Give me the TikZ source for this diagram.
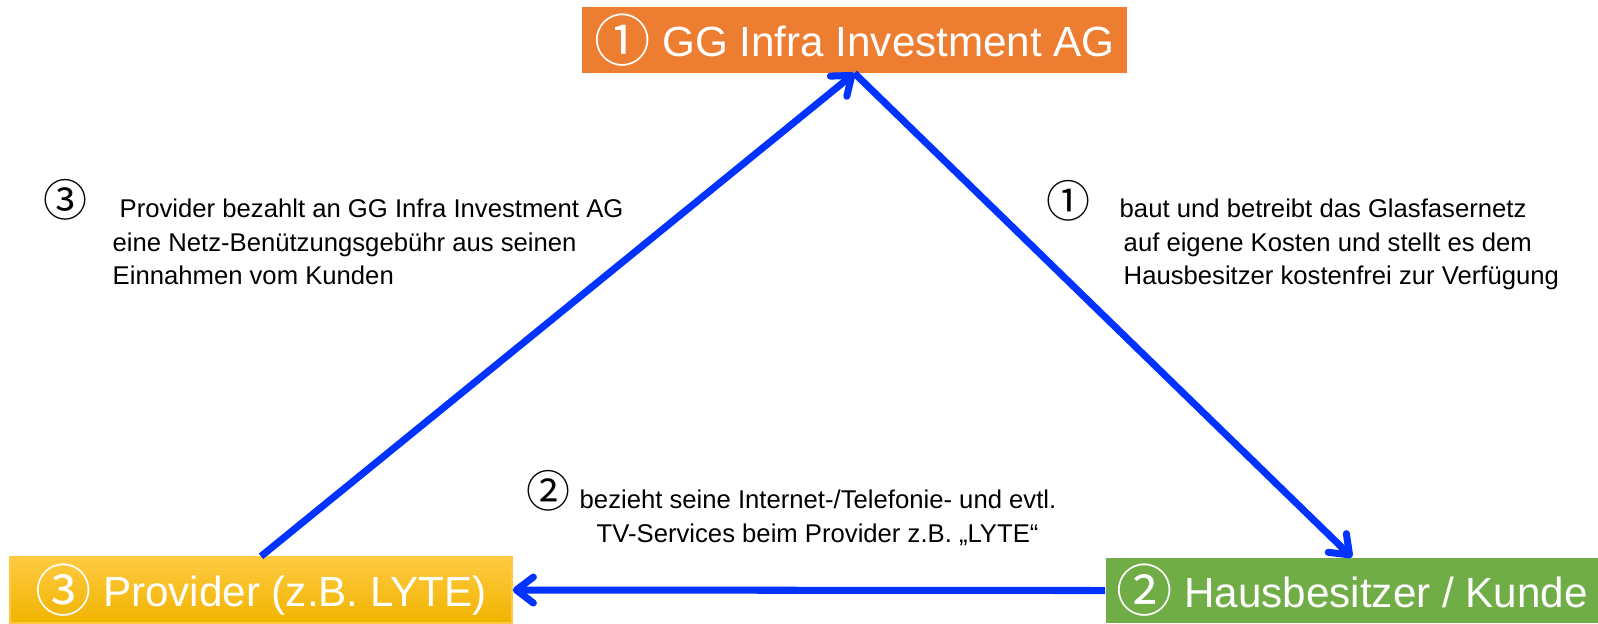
\documentclass[tikz,border=0pt]{standalone}
\usepackage{fontspec}
\setmainfont{Liberation Sans}
\newfontfamily\circfont{Noto Sans CJK JP}
\usetikzlibrary{arrows.meta}

\definecolor{ggorange}{HTML}{ED7D31}
\definecolor{hausgreen}{HTML}{70AD47}
\definecolor{provtop}{HTML}{FFCA42}
\definecolor{provbot}{HTML}{F0B400}
\definecolor{flowblue}{HTML}{0033FF}

\newcommand{\boxnum}[1]{\raisebox{-1.3pt}{\circfont\fontsize{16}{16}\selectfont #1}}
\newcommand{\notenum}[1]{{\circfont\fontsize{12.5}{12.5}\selectfont #1}}

\tikzset{
    box/.style={minimum height=0.65cm, inner sep=0pt, text=white,
        font=\fontsize{12}{13}\selectfont},
    flow/.style={draw=flowblue, line width=2pt,
        -{Straight Barb[round,length=0.17cm,width=0.26cm]}},
    note/.style={align=left, inner sep=0pt, anchor=north west,
        font=\fontsize{7.3}{9.6}\selectfont},
}

\begin{document}
\begin{tikzpicture}[x=0.01cm, y=-0.01cm]
    \useasboundingbox (0,0) rectangle (1598,623);

    % the three parties
    \node[box, fill=ggorange, minimum width=5.45cm] (gg) at (854.5,40)
        {\boxnum{①} GG Infra Investment AG};
    \node[box, top color=provtop, bottom color=provbot, draw=provtop,
        line width=0.4pt, minimum width=5.02cm, minimum height=0.66cm] (prov) at (261,590)
        {\boxnum{③} Provider (z.B. LYTE)};
    \node[box, fill=hausgreen, minimum width=4.92cm] (haus) at (1352,590.5)
        {\boxnum{②} Hausbesitzer / Kunde};

    % flows
    \draw[flow] (prov.north) -- (gg.south);
    \draw[flow] (gg.south) -- (haus.north);
    \draw[flow] (haus.west) -- (prov.east);

    % explanations
    \node (n3) at (65,200) {\notenum{③}};
    \node[note] (t3) at (112,198)
        {\hspace*{0.07cm}Provider bezahlt an GG Infra Investment AG\\
         eine Netz-Benützungsgebühr aus seinen\\
         Einnahmen vom Kunden};
    \node (n1) at (1068,201) {\notenum{①}};
    \node[note] (t1) at (1119,198)
        {baut und betreibt das Glasfasernetz\\
         \hspace*{0.04cm}auf eigene Kosten und stellt es dem\\
         \hspace*{0.04cm}Hausbesitzer kostenfrei zur Verfügung};
    \node (n2) at (548,491) {\notenum{②}};
    \node[note] (t2) at (579,489)
        {bezieht seine Internet-/Telefonie- und evtl.\\
         \hspace*{0.17cm}TV-Services beim Provider z.B. „LYTE“};
\end{tikzpicture}
\end{document}
